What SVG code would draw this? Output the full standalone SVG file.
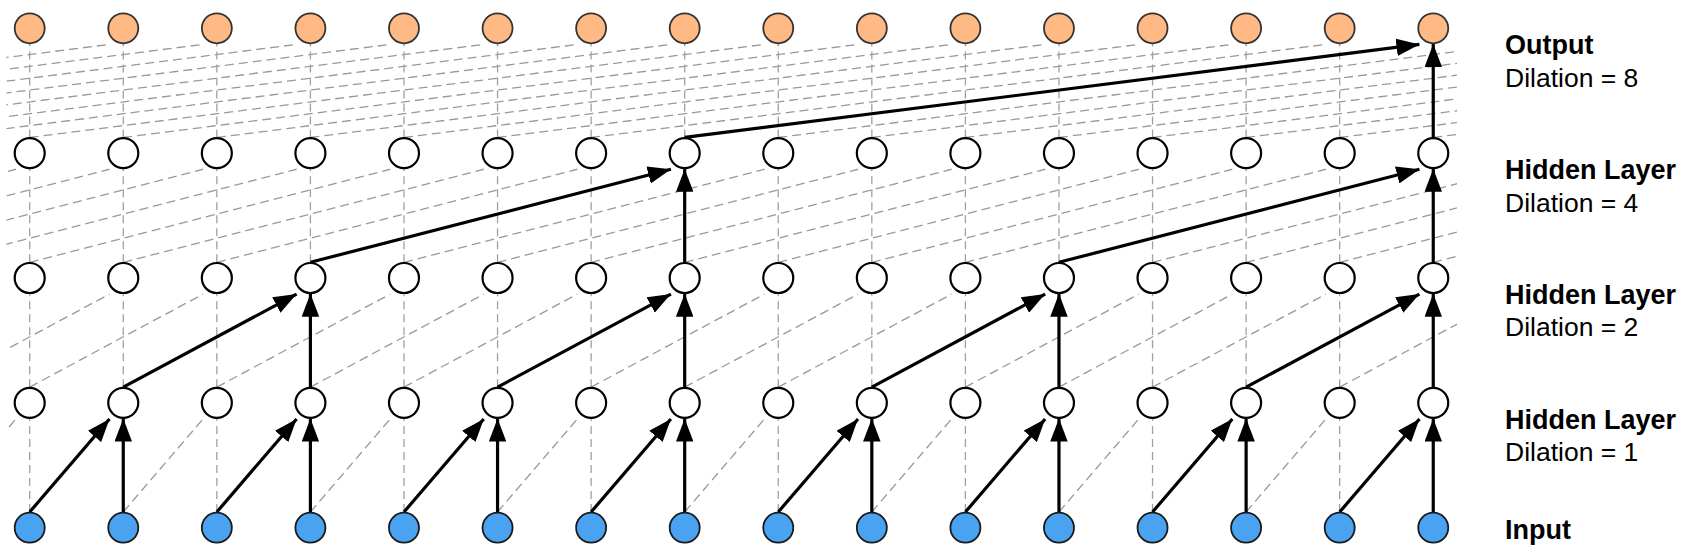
<svg xmlns="http://www.w3.org/2000/svg" width="1693" height="555" viewBox="0 0 1693 555">
<style>
.d{stroke:#999;stroke-width:1.3;stroke-dasharray:9 5;fill:none}
.v{stroke:#a0a0a0;stroke-width:1.3;stroke-dasharray:8 5;fill:none}
.s{stroke:#000;stroke-width:3.2;fill:none;marker-end:url(#ah)}
.in{fill:#4AA3F0;stroke:#1a1a1a;stroke-width:1.8}
.hd{fill:#fff;stroke:#000;stroke-width:2.2}
.out{fill:#FFB984;stroke:#333;stroke-width:1.8}
.t{font-family:"Liberation Sans",Arial,Helvetica,sans-serif;font-size:26.5px;fill:#000}
.b{font-weight:bold;font-size:27px}
</style>
<defs>
<marker id="ah" markerUnits="userSpaceOnUse" markerWidth="23" markerHeight="17.5" viewBox="0 0 23 17.5" refX="23" refY="8.75" orient="auto"><path d="M0,0 L23,8.75 L0,17.5 Z" fill="#000"/></marker>
<clipPath id="clip"><rect x="6.5" y="0" width="1450.5" height="555"/></clipPath>
</defs>
<rect width="1693" height="555" fill="#fff"/>
<g id="connectors">
<g id="dashed" clip-path="url(#clip)">
<!-- gap A: input -> hidden1, dilation 1 -->
<line class="d" x1="-63.87" y1="512" x2="15.90" y2="418.95"/>
<line class="d" x1="123.27" y1="512" x2="203.04" y2="418.95"/>
<line class="d" x1="310.41" y1="512" x2="390.18" y2="418.95"/>
<line class="d" x1="497.55" y1="512" x2="577.32" y2="418.95"/>
<line class="d" x1="684.69" y1="512" x2="764.46" y2="418.95"/>
<line class="d" x1="871.83" y1="512" x2="951.60" y2="418.95"/>
<line class="d" x1="1058.97" y1="512" x2="1138.74" y2="418.95"/>
<line class="d" x1="1246.11" y1="512" x2="1325.88" y2="418.95"/>
<line class="v" x1="29.70" y1="512" x2="29.70" y2="418.55"/>
<line class="v" x1="216.84" y1="512" x2="216.84" y2="418.55"/>
<line class="v" x1="403.98" y1="512" x2="403.98" y2="418.55"/>
<line class="v" x1="591.12" y1="512" x2="591.12" y2="418.55"/>
<line class="v" x1="778.26" y1="512" x2="778.26" y2="418.55"/>
<line class="v" x1="965.40" y1="512" x2="965.40" y2="418.55"/>
<line class="v" x1="1152.54" y1="512" x2="1152.54" y2="418.55"/>
<line class="v" x1="1339.68" y1="512" x2="1339.68" y2="418.55"/>
<!-- gap B: hidden1 -> hidden2, dilation 2 -->
<line class="d" x1="-63.87" y1="387.15" x2="109.47" y2="294.1"/>
<line class="d" x1="29.70" y1="387.15" x2="203.04" y2="294.1"/>
<line class="d" x1="216.84" y1="387.15" x2="390.18" y2="294.1"/>
<line class="d" x1="310.41" y1="387.15" x2="483.75" y2="294.1"/>
<line class="d" x1="403.98" y1="387.15" x2="577.32" y2="294.1"/>
<line class="d" x1="591.12" y1="387.15" x2="764.46" y2="294.1"/>
<line class="d" x1="684.69" y1="387.15" x2="858.03" y2="294.1"/>
<line class="d" x1="778.26" y1="387.15" x2="951.60" y2="294.1"/>
<line class="d" x1="965.40" y1="387.15" x2="1138.74" y2="294.1"/>
<line class="d" x1="1058.97" y1="387.15" x2="1232.31" y2="294.1"/>
<line class="d" x1="1152.54" y1="387.15" x2="1325.88" y2="294.1"/>
<line class="d" x1="1339.68" y1="387.15" x2="1513.02" y2="294.1"/>
<line class="v" x1="29.70" y1="387.15" x2="29.70" y2="293.7"/>
<line class="v" x1="123.27" y1="387.15" x2="123.27" y2="293.7"/>
<line class="v" x1="216.84" y1="387.15" x2="216.84" y2="293.7"/>
<line class="v" x1="403.98" y1="387.15" x2="403.98" y2="293.7"/>
<line class="v" x1="497.55" y1="387.15" x2="497.55" y2="293.7"/>
<line class="v" x1="591.12" y1="387.15" x2="591.12" y2="293.7"/>
<line class="v" x1="778.26" y1="387.15" x2="778.26" y2="293.7"/>
<line class="v" x1="871.83" y1="387.15" x2="871.83" y2="293.7"/>
<line class="v" x1="965.40" y1="387.15" x2="965.40" y2="293.7"/>
<line class="v" x1="1152.54" y1="387.15" x2="1152.54" y2="293.7"/>
<line class="v" x1="1246.11" y1="387.15" x2="1246.11" y2="293.7"/>
<line class="v" x1="1339.68" y1="387.15" x2="1339.68" y2="293.7"/>
<!-- gap C: hidden2 -> hidden3, dilation 4 -->
<line class="d" x1="-344.58" y1="262.3" x2="15.90" y2="169.25"/>
<line class="d" x1="-251.01" y1="262.3" x2="109.47" y2="169.25"/>
<line class="d" x1="-157.44" y1="262.3" x2="203.04" y2="169.25"/>
<line class="d" x1="-63.87" y1="262.3" x2="296.61" y2="169.25"/>
<line class="d" x1="29.70" y1="262.3" x2="390.18" y2="169.25"/>
<line class="d" x1="123.27" y1="262.3" x2="483.75" y2="169.25"/>
<line class="d" x1="216.84" y1="262.3" x2="577.32" y2="169.25"/>
<line class="d" x1="403.98" y1="262.3" x2="764.46" y2="169.25"/>
<line class="d" x1="497.55" y1="262.3" x2="858.03" y2="169.25"/>
<line class="d" x1="591.12" y1="262.3" x2="951.60" y2="169.25"/>
<line class="d" x1="684.69" y1="262.3" x2="1045.17" y2="169.25"/>
<line class="d" x1="778.26" y1="262.3" x2="1138.74" y2="169.25"/>
<line class="d" x1="871.83" y1="262.3" x2="1232.31" y2="169.25"/>
<line class="d" x1="965.40" y1="262.3" x2="1325.88" y2="169.25"/>
<line class="d" x1="1152.54" y1="262.3" x2="1513.02" y2="169.25"/>
<line class="d" x1="1246.11" y1="262.3" x2="1606.59" y2="169.25"/>
<line class="d" x1="1339.68" y1="262.3" x2="1700.16" y2="169.25"/>
<line class="d" x1="1433.25" y1="262.3" x2="1793.73" y2="169.25"/>
<line class="v" x1="29.70" y1="262.3" x2="29.70" y2="168.85"/>
<line class="v" x1="123.27" y1="262.3" x2="123.27" y2="168.85"/>
<line class="v" x1="216.84" y1="262.3" x2="216.84" y2="168.85"/>
<line class="v" x1="310.41" y1="262.3" x2="310.41" y2="168.85"/>
<line class="v" x1="403.98" y1="262.3" x2="403.98" y2="168.85"/>
<line class="v" x1="497.55" y1="262.3" x2="497.55" y2="168.85"/>
<line class="v" x1="591.12" y1="262.3" x2="591.12" y2="168.85"/>
<line class="v" x1="778.26" y1="262.3" x2="778.26" y2="168.85"/>
<line class="v" x1="871.83" y1="262.3" x2="871.83" y2="168.85"/>
<line class="v" x1="965.40" y1="262.3" x2="965.40" y2="168.85"/>
<line class="v" x1="1058.97" y1="262.3" x2="1058.97" y2="168.85"/>
<line class="v" x1="1152.54" y1="262.3" x2="1152.54" y2="168.85"/>
<line class="v" x1="1246.11" y1="262.3" x2="1246.11" y2="168.85"/>
<line class="v" x1="1339.68" y1="262.3" x2="1339.68" y2="168.85"/>
<!-- gap D: hidden3 -> output, dilation 8 -->
<line class="d" x1="-625.29" y1="137.45" x2="109.47" y2="44.4"/>
<line class="d" x1="-531.72" y1="137.45" x2="203.04" y2="44.4"/>
<line class="d" x1="-438.15" y1="137.45" x2="296.61" y2="44.4"/>
<line class="d" x1="-344.58" y1="137.45" x2="390.18" y2="44.4"/>
<line class="d" x1="-251.01" y1="137.45" x2="483.75" y2="44.4"/>
<line class="d" x1="-157.44" y1="137.45" x2="577.32" y2="44.4"/>
<line class="d" x1="-63.87" y1="137.45" x2="670.89" y2="44.4"/>
<line class="d" x1="29.70" y1="137.45" x2="764.46" y2="44.4"/>
<line class="d" x1="123.27" y1="137.45" x2="858.03" y2="44.4"/>
<line class="d" x1="216.84" y1="137.45" x2="951.60" y2="44.4"/>
<line class="d" x1="310.41" y1="137.45" x2="1045.17" y2="44.4"/>
<line class="d" x1="403.98" y1="137.45" x2="1138.74" y2="44.4"/>
<line class="d" x1="497.55" y1="137.45" x2="1232.31" y2="44.4"/>
<line class="d" x1="591.12" y1="137.45" x2="1325.88" y2="44.4"/>
<line class="d" x1="778.26" y1="137.45" x2="1513.02" y2="44.4"/>
<line class="d" x1="871.83" y1="137.45" x2="1606.59" y2="44.4"/>
<line class="d" x1="965.40" y1="137.45" x2="1700.16" y2="44.4"/>
<line class="d" x1="1058.97" y1="137.45" x2="1793.73" y2="44.4"/>
<line class="d" x1="1152.54" y1="137.45" x2="1887.30" y2="44.4"/>
<line class="d" x1="1246.11" y1="137.45" x2="1980.87" y2="44.4"/>
<line class="d" x1="1339.68" y1="137.45" x2="2074.44" y2="44.4"/>
<line class="d" x1="1433.25" y1="137.45" x2="2168.01" y2="44.4"/>
<line class="v" x1="29.70" y1="137.45" x2="29.70" y2="44"/>
<line class="v" x1="123.27" y1="137.45" x2="123.27" y2="44"/>
<line class="v" x1="216.84" y1="137.45" x2="216.84" y2="44"/>
<line class="v" x1="310.41" y1="137.45" x2="310.41" y2="44"/>
<line class="v" x1="403.98" y1="137.45" x2="403.98" y2="44"/>
<line class="v" x1="497.55" y1="137.45" x2="497.55" y2="44"/>
<line class="v" x1="591.12" y1="137.45" x2="591.12" y2="44"/>
<line class="v" x1="684.69" y1="137.45" x2="684.69" y2="44"/>
<line class="v" x1="778.26" y1="137.45" x2="778.26" y2="44"/>
<line class="v" x1="871.83" y1="137.45" x2="871.83" y2="44"/>
<line class="v" x1="965.40" y1="137.45" x2="965.40" y2="44"/>
<line class="v" x1="1058.97" y1="137.45" x2="1058.97" y2="44"/>
<line class="v" x1="1152.54" y1="137.45" x2="1152.54" y2="44"/>
<line class="v" x1="1246.11" y1="137.45" x2="1246.11" y2="44"/>
<line class="v" x1="1339.68" y1="137.45" x2="1339.68" y2="44"/>
</g>
<g id="solid">
<line class="s" x1="29.70" y1="512" x2="109.47" y2="418.95"/>
<line class="s" x1="216.84" y1="512" x2="296.61" y2="418.95"/>
<line class="s" x1="403.98" y1="512" x2="483.75" y2="418.95"/>
<line class="s" x1="591.12" y1="512" x2="670.89" y2="418.95"/>
<line class="s" x1="778.26" y1="512" x2="858.03" y2="418.95"/>
<line class="s" x1="965.40" y1="512" x2="1045.17" y2="418.95"/>
<line class="s" x1="1152.54" y1="512" x2="1232.31" y2="418.95"/>
<line class="s" x1="1339.68" y1="512" x2="1419.45" y2="418.95"/>
<line class="s" x1="123.27" y1="512" x2="123.27" y2="418.55"/>
<line class="s" x1="310.41" y1="512" x2="310.41" y2="418.55"/>
<line class="s" x1="497.55" y1="512" x2="497.55" y2="418.55"/>
<line class="s" x1="684.69" y1="512" x2="684.69" y2="418.55"/>
<line class="s" x1="871.83" y1="512" x2="871.83" y2="418.55"/>
<line class="s" x1="1058.97" y1="512" x2="1058.97" y2="418.55"/>
<line class="s" x1="1246.11" y1="512" x2="1246.11" y2="418.55"/>
<line class="s" x1="1433.25" y1="512" x2="1433.25" y2="418.55"/>
<line class="s" x1="123.27" y1="387.15" x2="296.61" y2="294.1"/>
<line class="s" x1="497.55" y1="387.15" x2="670.89" y2="294.1"/>
<line class="s" x1="871.83" y1="387.15" x2="1045.17" y2="294.1"/>
<line class="s" x1="1246.11" y1="387.15" x2="1419.45" y2="294.1"/>
<line class="s" x1="310.41" y1="387.15" x2="310.41" y2="293.7"/>
<line class="s" x1="684.69" y1="387.15" x2="684.69" y2="293.7"/>
<line class="s" x1="1058.97" y1="387.15" x2="1058.97" y2="293.7"/>
<line class="s" x1="1433.25" y1="387.15" x2="1433.25" y2="293.7"/>
<line class="s" x1="310.41" y1="262.3" x2="670.89" y2="169.25"/>
<line class="s" x1="1058.97" y1="262.3" x2="1419.45" y2="169.25"/>
<line class="s" x1="684.69" y1="262.3" x2="684.69" y2="168.85"/>
<line class="s" x1="1433.25" y1="262.3" x2="1433.25" y2="168.85"/>
<line class="s" x1="684.69" y1="137.45" x2="1419.45" y2="44.4"/>
<line class="s" x1="1433.25" y1="137.45" x2="1433.25" y2="44"/>
</g>
</g>
<g id="input-layer">
<g id="in0"><circle class="in" cx="29.70" cy="527.7" r="15"/></g>
<g id="in1"><circle class="in" cx="123.27" cy="527.7" r="15"/></g>
<g id="in2"><circle class="in" cx="216.84" cy="527.7" r="15"/></g>
<g id="in3"><circle class="in" cx="310.41" cy="527.7" r="15"/></g>
<g id="in4"><circle class="in" cx="403.98" cy="527.7" r="15"/></g>
<g id="in5"><circle class="in" cx="497.55" cy="527.7" r="15"/></g>
<g id="in6"><circle class="in" cx="591.12" cy="527.7" r="15"/></g>
<g id="in7"><circle class="in" cx="684.69" cy="527.7" r="15"/></g>
<g id="in8"><circle class="in" cx="778.26" cy="527.7" r="15"/></g>
<g id="in9"><circle class="in" cx="871.83" cy="527.7" r="15"/></g>
<g id="in10"><circle class="in" cx="965.40" cy="527.7" r="15"/></g>
<g id="in11"><circle class="in" cx="1058.97" cy="527.7" r="15"/></g>
<g id="in12"><circle class="in" cx="1152.54" cy="527.7" r="15"/></g>
<g id="in13"><circle class="in" cx="1246.11" cy="527.7" r="15"/></g>
<g id="in14"><circle class="in" cx="1339.68" cy="527.7" r="15"/></g>
<g id="in15"><circle class="in" cx="1433.25" cy="527.7" r="15"/></g>
</g>
<g id="hidden1-layer">
<g id="h1_0"><circle class="hd" cx="29.70" cy="402.85" r="15"/></g>
<g id="h1_1"><circle class="hd" cx="123.27" cy="402.85" r="15"/></g>
<g id="h1_2"><circle class="hd" cx="216.84" cy="402.85" r="15"/></g>
<g id="h1_3"><circle class="hd" cx="310.41" cy="402.85" r="15"/></g>
<g id="h1_4"><circle class="hd" cx="403.98" cy="402.85" r="15"/></g>
<g id="h1_5"><circle class="hd" cx="497.55" cy="402.85" r="15"/></g>
<g id="h1_6"><circle class="hd" cx="591.12" cy="402.85" r="15"/></g>
<g id="h1_7"><circle class="hd" cx="684.69" cy="402.85" r="15"/></g>
<g id="h1_8"><circle class="hd" cx="778.26" cy="402.85" r="15"/></g>
<g id="h1_9"><circle class="hd" cx="871.83" cy="402.85" r="15"/></g>
<g id="h1_10"><circle class="hd" cx="965.40" cy="402.85" r="15"/></g>
<g id="h1_11"><circle class="hd" cx="1058.97" cy="402.85" r="15"/></g>
<g id="h1_12"><circle class="hd" cx="1152.54" cy="402.85" r="15"/></g>
<g id="h1_13"><circle class="hd" cx="1246.11" cy="402.85" r="15"/></g>
<g id="h1_14"><circle class="hd" cx="1339.68" cy="402.85" r="15"/></g>
<g id="h1_15"><circle class="hd" cx="1433.25" cy="402.85" r="15"/></g>
</g>
<g id="hidden2-layer">
<g id="h2_0"><circle class="hd" cx="29.70" cy="278" r="15"/></g>
<g id="h2_1"><circle class="hd" cx="123.27" cy="278" r="15"/></g>
<g id="h2_2"><circle class="hd" cx="216.84" cy="278" r="15"/></g>
<g id="h2_3"><circle class="hd" cx="310.41" cy="278" r="15"/></g>
<g id="h2_4"><circle class="hd" cx="403.98" cy="278" r="15"/></g>
<g id="h2_5"><circle class="hd" cx="497.55" cy="278" r="15"/></g>
<g id="h2_6"><circle class="hd" cx="591.12" cy="278" r="15"/></g>
<g id="h2_7"><circle class="hd" cx="684.69" cy="278" r="15"/></g>
<g id="h2_8"><circle class="hd" cx="778.26" cy="278" r="15"/></g>
<g id="h2_9"><circle class="hd" cx="871.83" cy="278" r="15"/></g>
<g id="h2_10"><circle class="hd" cx="965.40" cy="278" r="15"/></g>
<g id="h2_11"><circle class="hd" cx="1058.97" cy="278" r="15"/></g>
<g id="h2_12"><circle class="hd" cx="1152.54" cy="278" r="15"/></g>
<g id="h2_13"><circle class="hd" cx="1246.11" cy="278" r="15"/></g>
<g id="h2_14"><circle class="hd" cx="1339.68" cy="278" r="15"/></g>
<g id="h2_15"><circle class="hd" cx="1433.25" cy="278" r="15"/></g>
</g>
<g id="hidden3-layer">
<g id="h3_0"><circle class="hd" cx="29.70" cy="153.15" r="15"/></g>
<g id="h3_1"><circle class="hd" cx="123.27" cy="153.15" r="15"/></g>
<g id="h3_2"><circle class="hd" cx="216.84" cy="153.15" r="15"/></g>
<g id="h3_3"><circle class="hd" cx="310.41" cy="153.15" r="15"/></g>
<g id="h3_4"><circle class="hd" cx="403.98" cy="153.15" r="15"/></g>
<g id="h3_5"><circle class="hd" cx="497.55" cy="153.15" r="15"/></g>
<g id="h3_6"><circle class="hd" cx="591.12" cy="153.15" r="15"/></g>
<g id="h3_7"><circle class="hd" cx="684.69" cy="153.15" r="15"/></g>
<g id="h3_8"><circle class="hd" cx="778.26" cy="153.15" r="15"/></g>
<g id="h3_9"><circle class="hd" cx="871.83" cy="153.15" r="15"/></g>
<g id="h3_10"><circle class="hd" cx="965.40" cy="153.15" r="15"/></g>
<g id="h3_11"><circle class="hd" cx="1058.97" cy="153.15" r="15"/></g>
<g id="h3_12"><circle class="hd" cx="1152.54" cy="153.15" r="15"/></g>
<g id="h3_13"><circle class="hd" cx="1246.11" cy="153.15" r="15"/></g>
<g id="h3_14"><circle class="hd" cx="1339.68" cy="153.15" r="15"/></g>
<g id="h3_15"><circle class="hd" cx="1433.25" cy="153.15" r="15"/></g>
</g>
<g id="output-layer">
<g id="out0"><circle class="out" cx="29.70" cy="28.3" r="15"/></g>
<g id="out1"><circle class="out" cx="123.27" cy="28.3" r="15"/></g>
<g id="out2"><circle class="out" cx="216.84" cy="28.3" r="15"/></g>
<g id="out3"><circle class="out" cx="310.41" cy="28.3" r="15"/></g>
<g id="out4"><circle class="out" cx="403.98" cy="28.3" r="15"/></g>
<g id="out5"><circle class="out" cx="497.55" cy="28.3" r="15"/></g>
<g id="out6"><circle class="out" cx="591.12" cy="28.3" r="15"/></g>
<g id="out7"><circle class="out" cx="684.69" cy="28.3" r="15"/></g>
<g id="out8"><circle class="out" cx="778.26" cy="28.3" r="15"/></g>
<g id="out9"><circle class="out" cx="871.83" cy="28.3" r="15"/></g>
<g id="out10"><circle class="out" cx="965.40" cy="28.3" r="15"/></g>
<g id="out11"><circle class="out" cx="1058.97" cy="28.3" r="15"/></g>
<g id="out12"><circle class="out" cx="1152.54" cy="28.3" r="15"/></g>
<g id="out13"><circle class="out" cx="1246.11" cy="28.3" r="15"/></g>
<g id="out14"><circle class="out" cx="1339.68" cy="28.3" r="15"/></g>
<g id="out15"><circle class="out" cx="1433.25" cy="28.3" r="15"/></g>
</g>
<g id="labels">
<g id="label-output"><text class="t b" x="1505" y="54.3">Output</text><text class="t" x="1505" y="87">Dilation = 8</text></g>
<g id="label-hidden3"><text class="t b" x="1505" y="179.3">Hidden Layer</text><text class="t" x="1505" y="211.5">Dilation = 4</text></g>
<g id="label-hidden2"><text class="t b" x="1505" y="303.8">Hidden Layer</text><text class="t" x="1505" y="336">Dilation = 2</text></g>
<g id="label-hidden1"><text class="t b" x="1505" y="428.5">Hidden Layer</text><text class="t" x="1505" y="460.5">Dilation = 1</text></g>
<g id="label-input"><text class="t b" x="1505" y="538.5">Input</text></g>
</g>
</svg>
